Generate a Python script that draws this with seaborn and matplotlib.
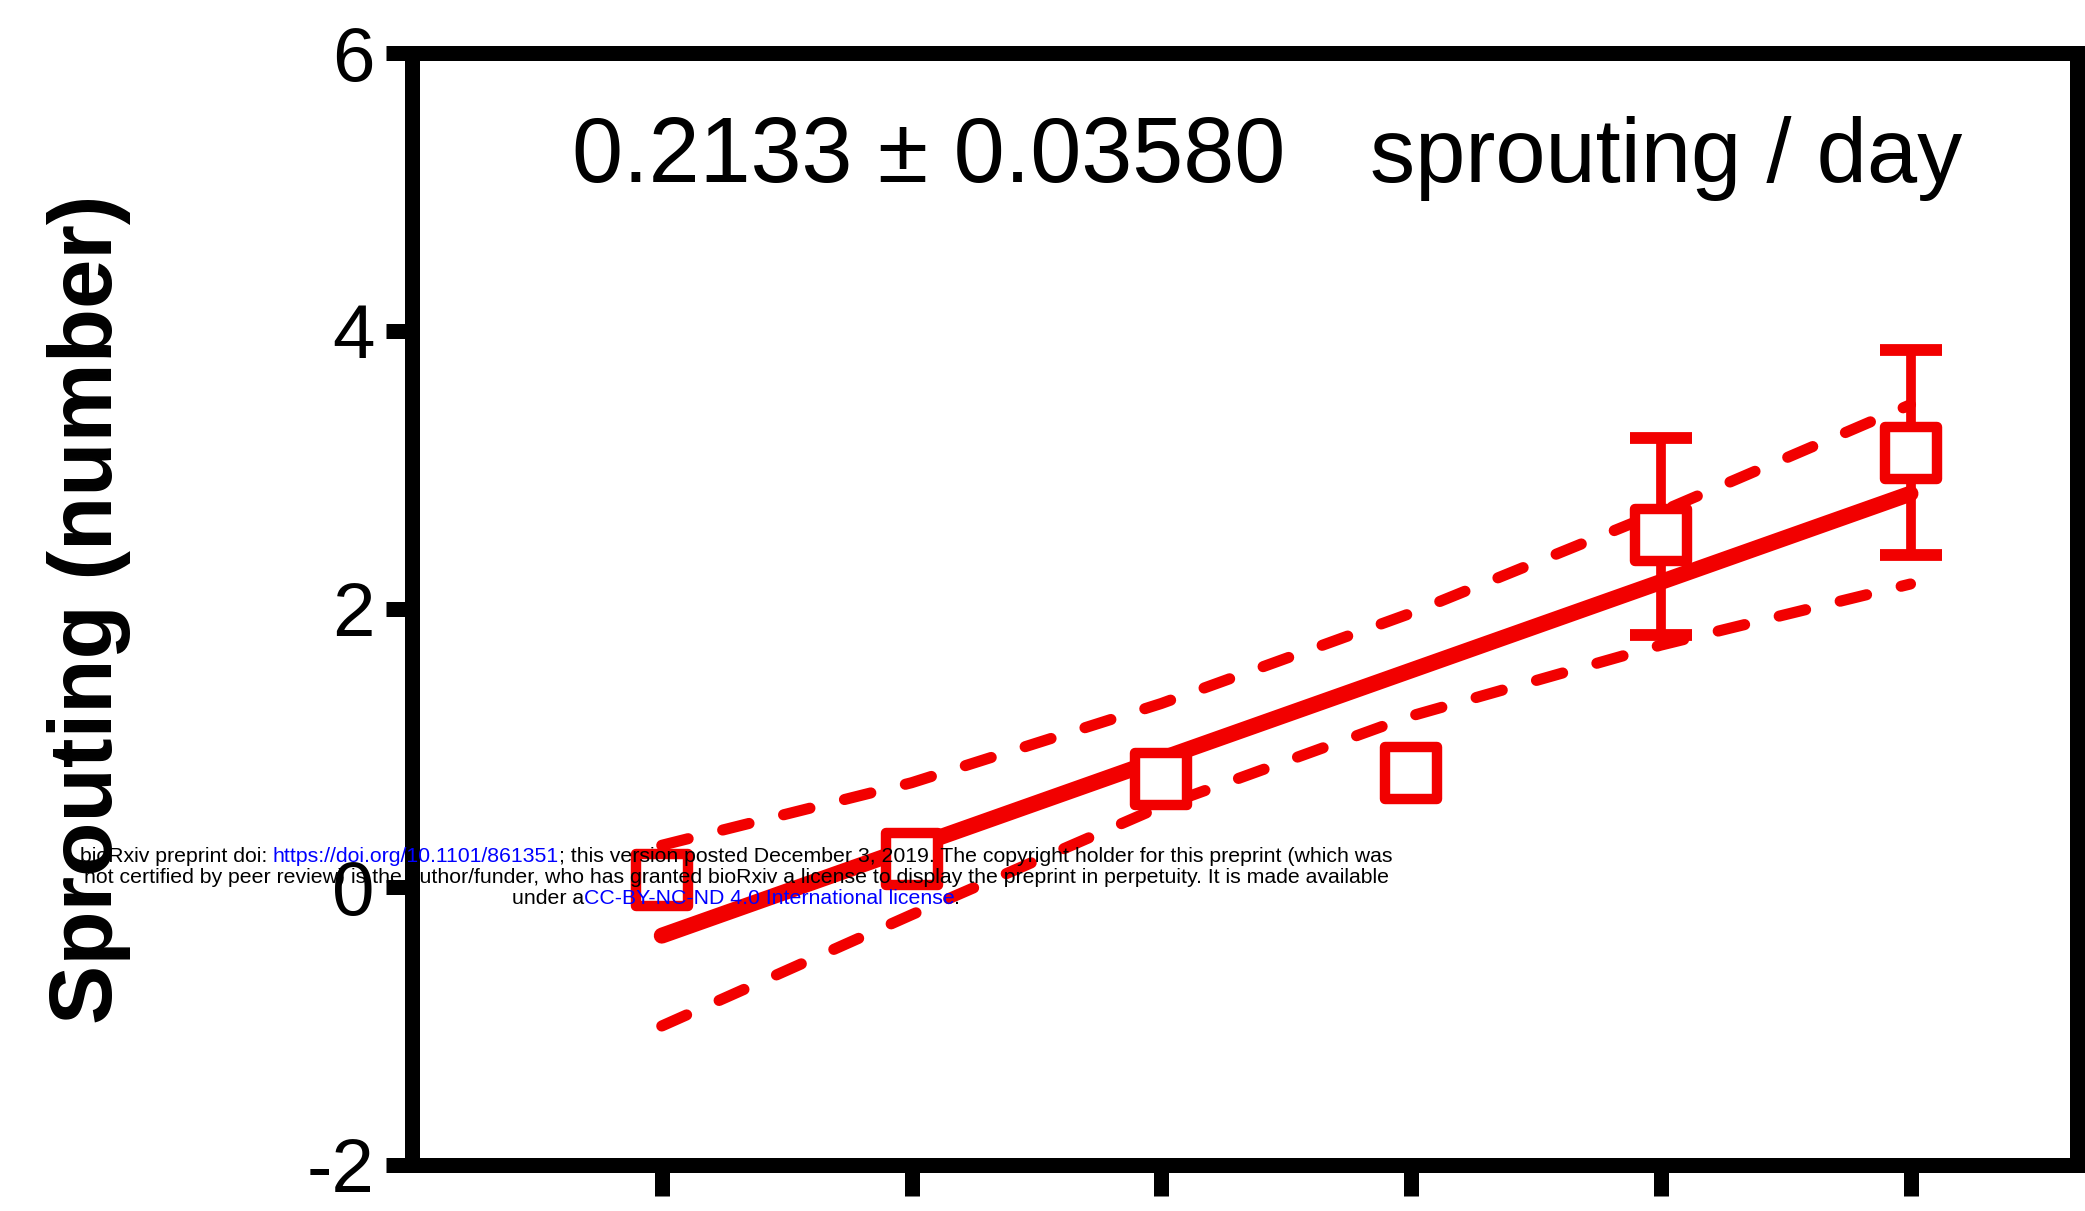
import matplotlib
matplotlib.use("Agg")
import matplotlib.pyplot as plt
import seaborn as sns
import pandas as pd

# ---------------- data ----------------
days = [3, 6, 9, 12, 15, 18]
sprouting_mean = [0.05, 0.20, 0.78, 0.82, 2.53, 3.12]
err_days = [15, 18]
err_mean = [2.52, 3.125]
err_sem = [0.71, 0.735]
fit_days = [3, 18]
fit_values = [-0.35, 2.83]
band_days = [3, 6, 9, 12, 15, 18]
band_upper = [0.30, 0.75, 1.32, 1.97, 2.70, 3.47]
band_lower = [-1.00, -0.20, 0.58, 1.23, 1.74, 2.18]
y_ticks = [-2, 0, 2, 4, 6]
slope_text = "0.2133 \u00b1 0.03580"
unit_text = "sprouting / day"
y_label = "Sprouting (number)"

wm_line1 = [("bioRxiv preprint doi: ", "black"),
            ("https://doi.org/10.1101/861351", "#0000ff"),
            ("; this version posted December 3, 2019. The copyright holder for this preprint (which was", "black")]
wm_line2 = [("not certified by peer review) is the author/funder, who has granted bioRxiv a license to display the preprint in perpetuity. It is made available", "black")]
wm_line3 = [("under a", "black"),
            ("CC-BY-NC-ND 4.0 International license", "#0000ff"),
            (".", "black")]

# ---------------- style ----------------
sns.set_theme(style="ticks")
plt.rcParams["font.family"] = ["Liberation Sans", "DejaVu Sans"]
plt.rcParams["axes.unicode_minus"] = False

RED = "#f20000"
W, H = 2085, 1211
fig = plt.figure(figsize=(W / 100, H / 100), dpi=100)
fig.patch.set_facecolor("white")
left, right, top, bottom = 412, 2077, 53, 1165
ax = fig.add_axes([left / W, 1 - bottom / H, (right - left) / W, (bottom - top) / H])
ax.set_facecolor("white")

# confidence bands
band_df = pd.DataFrame({"day": band_days, "upper": band_upper, "lower": band_lower})
for col in ["upper", "lower"]:
    sns.lineplot(data=band_df, x="day", y=col, ax=ax, color=RED, linewidth=8.0, zorder=2)
    ln = ax.lines[-1]
    ln.set_dashes([2.45, 3.2])
    ln.set_dash_capstyle("round")

# fit line
fit_df = pd.DataFrame({"day": fit_days, "fit": fit_values})
sns.lineplot(data=fit_df, x="day", y="fit", ax=ax, color=RED, linewidth=11.5,
             solid_capstyle="round", zorder=3)

# error bars
ax.errorbar(err_days, err_mean, yerr=err_sem, fmt="none", ecolor=RED,
            elinewidth=7, capsize=22, capthick=8.5, zorder=4)

# data points
pts = pd.DataFrame({"day": days, "mean": sprouting_mean})
sns.scatterplot(data=pts, x="day", y="mean", ax=ax, marker="s", s=1450,
                facecolor="white", edgecolor=RED, linewidth=7.5, zorder=5)

# axes
ax.set_xlim(0, 20)
ax.set_ylim(-2, 6)
ax.set_xticks(days)
ax.set_yticks(y_ticks)
ax.set_yticklabels([str(v) for v in y_ticks])
ax.tick_params(axis="y", direction="out", length=19, width=10.8, pad=8,
               labelsize=55, colors="black")
ax.tick_params(axis="x", direction="out", length=22, width=10.8, labelbottom=False,
               color="black")
for sp in ax.spines.values():
    sp.set_visible(True)
    sp.set_linewidth(10.8)
    sp.set_color("black")
ax.set_xlabel("")
ax.set_ylabel(y_label, fontsize=64, fontweight="bold", color="black")
ax.yaxis.label.set_va("center")
ax.yaxis.set_label_coords((89 - left) / (right - left), 0.5)

# annotations
base = (bottom - 182) / (bottom - top)
ax.text((572 - left) / (right - left), base, slope_text, transform=ax.transAxes,
        fontsize=66, va="baseline", ha="left", color="black")
ax.text((1370 - left) / (right - left), base, unit_text, transform=ax.transAxes,
        fontsize=65, va="baseline", ha="left", color="black")

# watermark (rich text lines, centred)
def rich_line(parts, baseline_px, size=15.3):
    y = 1 - baseline_px / H
    arts = []
    for s, c in parts:
        if not arts:
            t = ax.annotate(s, xy=(0.0, y), xycoords="figure fraction", color=c,
                            fontsize=size, va="baseline", ha="left",
                            annotation_clip=False, zorder=20)
        else:
            t = ax.annotate(s, xy=(1.0, y), xycoords=(arts[-1], "figure fraction"),
                            color=c, fontsize=size, va="baseline", ha="left",
                            annotation_clip=False, zorder=20)
        arts.append(t)
    return arts

lines = [rich_line(wm_line1, 862), rich_line(wm_line2, 883), rich_line(wm_line3, 904)]
fig.canvas.draw()
r = fig.canvas.get_renderer()
center = 736
for arts in lines:
    x0 = arts[0].get_window_extent(r).x0
    x1 = arts[-1].get_window_extent(r).x1
    width = x1 - x0
    newpos = ((center - width / 2) / W, arts[0].xy[1])
    arts[0].xy = newpos
    arts[0].xyann = newpos

fig.savefig("out.png", dpi=100, facecolor="white")
